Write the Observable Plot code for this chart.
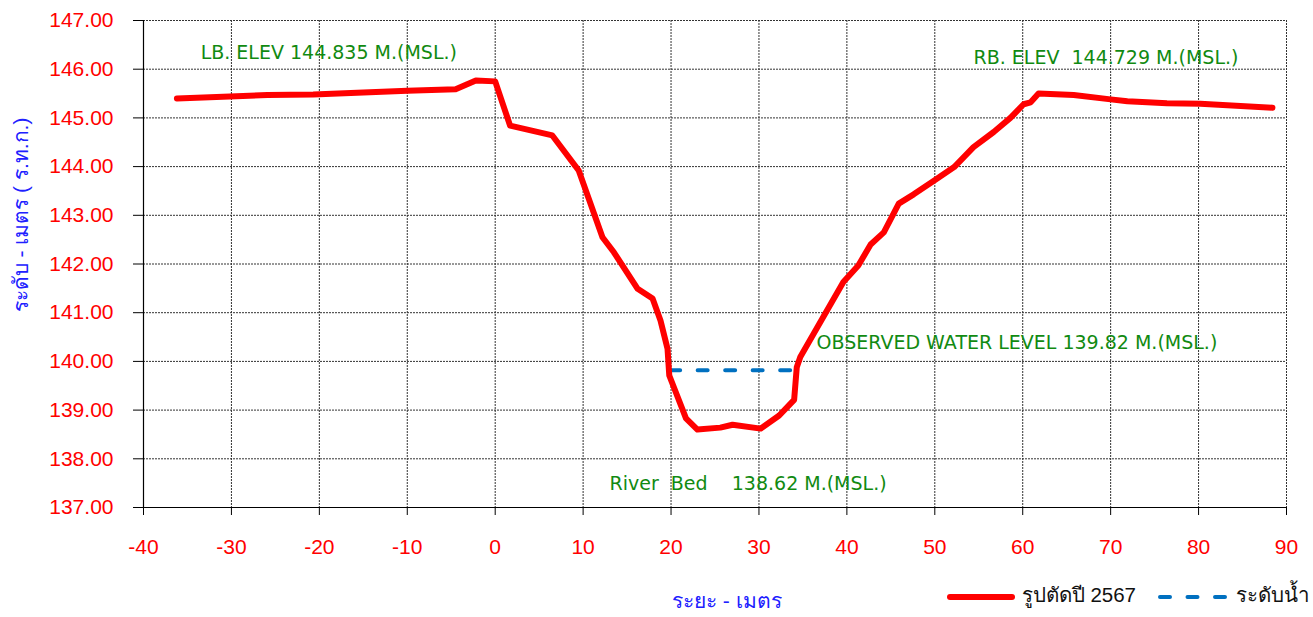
<!DOCTYPE html>
<html><head><meta charset="utf-8">
<script src="https://cdn.jsdelivr.net/npm/d3@7"></script>
<script src="https://cdn.jsdelivr.net/npm/@observablehq/plot@0.6"></script>
<style>
body{margin:0;background:#fff;font-family:"Liberation Sans",Arial,sans-serif}
#wrap{position:relative;width:1313px;height:617px;overflow:hidden}
.ov{position:absolute;white-space:nowrap;line-height:1}
</style>
</head><body><div id="wrap"></div>
<script>
// Cross-section data
const distance = [-36.2,-25.9,-20.7,-10.0,-4.5,-2.2,0.0,1.7,6.5,9.5,12.2,13.5,16.2,17.9,18.8,19.6,19.8,21.7,23.0,25.6,27.0,30.2,32.3,34.0,34.3,34.7,39.6,41.3,42.7,44.2,45.9,47.6,49.9,52.2,54.4,56.7,58.6,60.1,60.9,61.8,65.8,70.0,71.9,76.4,80.2,88.4];
const elevation = [145.40,145.47,145.48,145.56,145.59,145.77,145.75,144.84,144.64,143.92,142.55,142.24,141.49,141.29,140.84,140.26,139.71,138.83,138.60,138.64,138.70,138.62,138.89,139.21,139.88,140.09,141.63,141.97,142.40,142.65,143.24,143.43,143.71,143.99,144.40,144.71,145.00,145.28,145.32,145.50,145.47,145.38,145.34,145.30,145.29,145.21];
const waterX = [19.9, 34.3];
const waterLevel = 139.82;
const xTicks = [-40,-30,-20,-10,0,10,20,30,40,50,60,70,80,90];
const yTicks = [137,138,139,140,141,142,143,144,145,146,147];
const labelText = ["LB. ELEV 144.835 M.(MSL.)","RB. ELEV  144.729 M.(MSL.)","OBSERVED WATER LEVEL 139.82 M.(MSL.)","River  Bed    138.62 M.(MSL.)"];
const labelX = [-33.5, 54.4, 36.55, 13.0];
const labelY = [146.34, 146.24, 140.39, 137.49];
const xTitle = "ระยะ - เมตร";
const yTitle = "ระดับ - เมตร ( ร.ท.ก.)";
const seriesNames = ["รูปตัดปี 2567", "ระดับน้ำ"];

const section = distance.map((d,i)=>({x:d, y:elevation[i]}));
const water = waterX.map(x=>({x, y:waterLevel}));
const labels = labelText.map((t,i)=>({t, x:labelX[i], y:labelY[i]}));

const plot = Plot.plot({
  width:1313, height:617,
  marginLeft:143, marginRight:27, marginTop:20, marginBottom:110,
  x:{domain:[-40,90]},
  y:{domain:[137,147]},
  style:{fontFamily:'"Liberation Sans",Arial,sans-serif', background:"white", overflow:"visible"},
  marks:[
    Plot.gridX(xTicks.slice(1), {stroke:"#333", strokeOpacity:1, strokeDasharray:"2,1", strokeWidth:1}),
    Plot.gridY(yTicks.slice(1), {stroke:"#333", strokeOpacity:1, strokeDasharray:"2,1", strokeWidth:1}),
    Plot.ruleX([-40], {stroke:"black", strokeWidth:1.2}),
    Plot.ruleY([137], {stroke:"black", strokeWidth:1.2}),
    Plot.axisX(xTicks, {tickSize:8, tickPadding:24, fontSize:21, fill:"red", stroke:"black", label:null, tickFormat:d=>String(d)}),
    Plot.axisY(yTicks, {tickSize:10, tickPadding:20, fontSize:21, fill:"red", stroke:"black", label:null, tickFormat:d3.format(".2f")}),
    Plot.line(water, {x:"x", y:"y", stroke:"#0070c0", strokeWidth:4, strokeDasharray:"10,17.5", strokeLinecap:"round"}),
    Plot.line(section, {x:"x", y:"y", stroke:"#ff0000", strokeWidth:6, strokeLinejoin:"round", strokeLinecap:"round"}),
    Plot.text(labels, {x:"x", y:"y", text:"t", textAnchor:"start", fill:"#118a11", fontSize:19, fontFamily:'"DejaVu Sans",Verdana,sans-serif'})
  ]
});
const wrap = document.getElementById("wrap");
wrap.appendChild(plot);

function ov(html, style){const d=document.createElement("div");d.className="ov";d.innerHTML=html;Object.assign(d.style,style);wrap.appendChild(d);return d;}
ov(xTitle, {left:"672px", top:"590px", color:"#2020ff", fontSize:"21px"});
ov(yTitle, {left:"20px", top:"215px", color:"#2020ff", fontSize:"21px", transform:"translate(-50%,-50%) rotate(-90deg)"});
ov(`<svg width="70" height="10" style="vertical-align:middle"><line x1="4" y1="5" x2="66" y2="5" stroke="#ff0000" stroke-width="6" stroke-linecap="round"/></svg> ${seriesNames[0]}`, {left:"946px", top:"585px", color:"#111", fontSize:"20.5px"});
ov(`<svg width="74" height="10" style="vertical-align:middle"><line x1="4" y1="5" x2="70" y2="5" stroke="#0070c0" stroke-width="4" stroke-dasharray="10,17.5" stroke-linecap="round"/></svg> ${seriesNames[1]}`, {left:"1156px", top:"585px", color:"#111", fontSize:"20.5px"});
</script>
</body></html>
